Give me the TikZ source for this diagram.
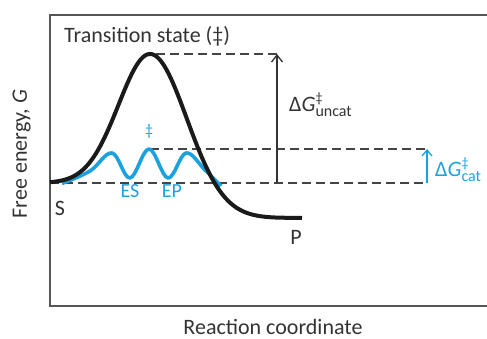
\documentclass[tikz,border=0pt]{standalone}
\usepackage{fontspec}
\setmainfont{Carlito}
\usetikzlibrary{arrows.meta}
\definecolor{txt}{HTML}{333333}
\definecolor{curvecol}{HTML}{1A1A1A}
\definecolor{enz}{HTML}{1BA1DE}
\definecolor{framecol}{HTML}{555555}
\definecolor{dashcol}{HTML}{444444}
\newcommand{\gapsub}[1]{\raisebox{-5pt}{\fontsize{16}{16}\selectfont\shortstack[l]{\fontsize{14}{14}\selectfont ‡\\[-1pt]#1}}}
\begin{document}
\begin{tikzpicture}[x=1pt,y=-1pt,
  lbl/.style={text=txt,inner sep=0pt,font=\fontsize{22}{24}\selectfont},
  bluelbl/.style={text=enz,inner sep=0pt,font=\fontsize{20}{22}\selectfont},
  gaplbl/.style={inner sep=0pt,font=\fontsize{22}{24}\selectfont,anchor=base west},
  dashline/.style={draw=dashcol,line width=1.1pt,dash pattern=on 9pt off 5pt},
  gaparrow/.style={line width=1.3pt,-{Straight Barb[length=7pt,width=11pt]}}]
\useasboundingbox (0,0) rectangle (487,339);
% frame
\coordinate (TL) at (50,15);
\coordinate (TR) at (487,15);
\coordinate (BL) at (50,306);
\coordinate (BR) at (487,306);
\draw[framecol,line width=1.5pt] (TR) -- (TL) -- (BL) -- (BR);
% key points
\coordinate (Sb) at (50,183);
\coordinate (peakR) at (156,54);
\coordinate (topR) at (277,54);
\coordinate (baseA) at (277,183);
\coordinate (baseR) at (427,183);
\coordinate (midL) at (150,149);
\coordinate (midR) at (427,149);
% dashed guide lines
\draw[dashline] (peakR) -- (topR);
\draw[dashline] (Sb) -- (baseR);
\draw[dashline] (midL) -- (midR);
% catalysed curve
\draw[enz,line width=3.6pt,line join=round] plot[smooth,tension=0.6] coordinates
  {(62,183.5) (90,171) (112,153) (130,178) (149,149) (168,178) (186,153) (205,170) (221,186)};
% uncatalysed curve
\draw[curvecol,line width=4pt,line join=round]
  plot[domain=50:150,samples=70] (\x,{183-129*exp(-((\x-150)/44.5)*((\x-150)/44.5))})
  -- plot[domain=150:280,samples=70] (\x,{218-164*exp(-((\x-150)/52)*((\x-150)/52))})
  -- (302,218);
% arrows
\draw[gaparrow,txt] (baseA) -- (topR);
\draw[gaparrow,enz,-{Straight Barb[length=6pt,width=10pt]}] (baseR) -- (midR);
% labels
\node[lbl,anchor=base west] (ts) at (64,43) {Transition state (‡)};
\node[lbl,anchor=base] (xl) at (273,334) {Reaction coordinate};
\node[lbl,anchor=base,rotate=90] (yl) at (27,154) {Free energy, \textit{G}};
\node[lbl,anchor=base] (S) at (60,215) {S};
\node[lbl,anchor=base] (P) at (296,244) {P};
\node[bluelbl,anchor=base] (ES) at (130,197) {ES};
\node[bluelbl,anchor=base] (EP) at (172,197) {EP};
\node[text=enz,inner sep=0pt,font=\fontsize{16}{16}\selectfont] (dd) at (149,131) {‡};
\node[gaplbl,text=txt] (gu) at (289,112) {Δ\textit{G}\gapsub{uncat}};
\node[gaplbl,text=enz] (gc) at (435,177) {Δ\textit{G}\gapsub{cat}};
\end{tikzpicture}
\end{document}
